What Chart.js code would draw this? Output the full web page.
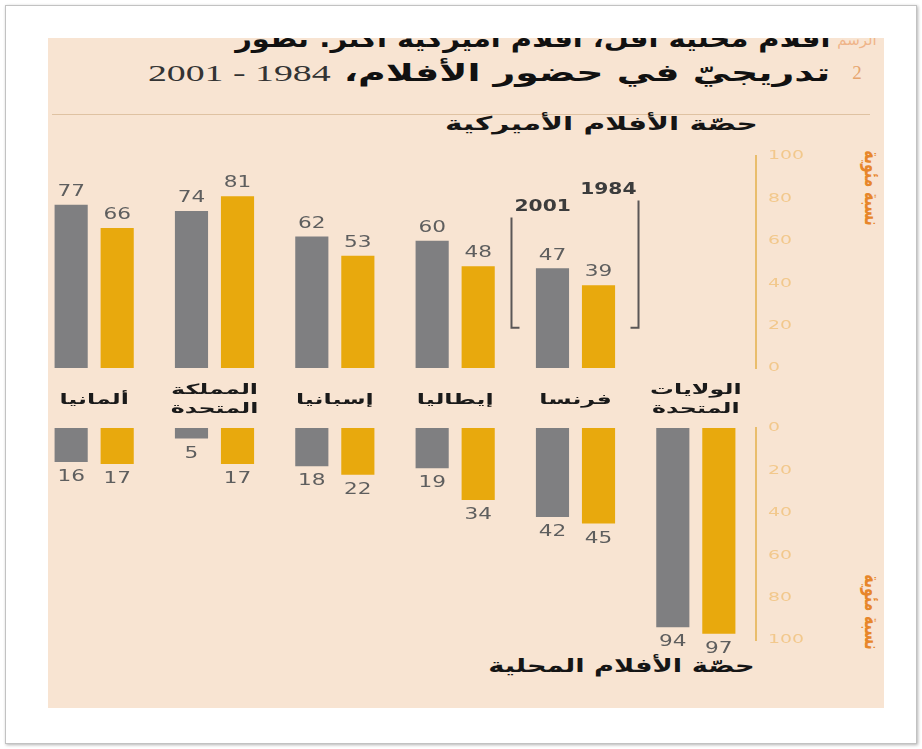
<!DOCTYPE html>
<html lang="ar">
<head>
<meta charset="utf-8">
<script src="https://cdn.jsdelivr.net/npm/chart.js@4.4.1/dist/chart.umd.min.js"></script>
<style>
  body { margin: 0; width: 922px; height: 749px; background: #fff; position: relative; overflow: hidden; font-family: "DejaVu Sans", sans-serif; }
  .frame { position: absolute; left: 5px; top: 5px; width: 910px; height: 737px; border: 1px solid #c2c2c2; box-shadow: 1px 1px 3px rgba(0,0,0,0.3); }
  .panel { position: absolute; left: 48px; top: 38px; width: 836px; height: 670px; background: #f8e4d2; overflow: hidden; }
  .line { position: absolute; right: 54px; direction: rtl; white-space: nowrap; font-weight: bold; font-size: 24px; line-height: 28px; color: #111; transform-origin: right center; }
  .line .yr { font-family: "Liberation Serif", serif; font-weight: normal; font-size: 24px; color: #333; }
  .fig { position: absolute; right: 4px; top: -12px; width: 46px; text-align: center; line-height: 28px; color: #efb489; font-size: 15px; }
  .fig .n { font-family: "Liberation Serif", serif; font-size: 19px; color: #e6a56e; margin-top: 5px; }
  .rule { position: absolute; left: 4px; top: 76px; width: 818px; height: 1px; background: #dfc2a2; }
  .sub { position: absolute; direction: rtl; white-space: nowrap; font-weight: bold; font-size: 19px; line-height: 20px; color: #151515; transform-origin: right center; }
  .vlabel { position: absolute; white-space: nowrap; color: #e7862a; font-weight: bold; font-size: 14px; transform: translate(-50%, -50%) rotate(90deg) scaleY(1.5); }
  canvas { position: absolute; left: 0; }
</style>
</head>
<body>
<div class="frame"></div>
<div class="panel">
  <div class="line" data-w="595" style="top:-13px;">أفلام محلية أقل، أفلام أميركية أكثر: تطوّر</div>
  <div class="line" data-w="682" style="top:21px;">تدريجيّ في حضور الأفلام، <span class="yr">1984 - 2001</span></div>
  <div class="fig"><div>الرسم</div><div class="n">2</div></div>
  <div class="rule"></div>
  <div class="sub" data-w="313" style="right:126px; top:75px;">حصّة الأفلام الأميركية</div>
  <div class="sub" data-w="267" style="right:129px; top:617px;">حصّة الأفلام المحلية</div>
</div>
<div class="vlabel" style="left:872px; top:188px;">نسبة مئوية</div>
<div class="vlabel" style="left:872px; top:612px;">نسبة مئوية</div>
<canvas id="usChart" width="830" height="278" style="top:140px"></canvas>
<canvas id="localChart" width="830" height="240" style="top:415px"></canvas>
<script>
// countries, in left-to-right drawing order
const categories = ['ألمانيا', ['المملكة', 'المتحدة'], 'إسبانيا', 'إيطاليا', 'فرنسا', ['الولايات', 'المتحدة']];
const years = ['2001', '1984'];

// share of American films (%), no bars for the US itself
const usShare2001 = [77, 74, 62, 60, 47, null];
const usShare1984 = [66, 81, 53, 48, 39, null];

// share of local films (%)
const localShare2001 = [16, 5, 18, 19, 42, 94];
const localShare1984 = [17, 17, 22, 34, 45, 97];

const GREY = '#7f7f81';
const AMBER = '#e8a90d';

// the printed graphic uses a wide face; stretch the text to suit
document.querySelectorAll('[data-w]').forEach(el => {
  const s = Number(el.dataset.w) / el.offsetWidth;
  el.style.transform = 'scaleX(' + s.toFixed(3) + ')';
});

Chart.defaults.font.family = "'DejaVu Sans', sans-serif";
Chart.defaults.animation = false;

function wideText(ctx, text, x, y, sx) {
  ctx.save();
  ctx.translate(x, y);
  ctx.scale(sx, 1);
  ctx.fillText(text, 0, 0);
  ctx.restore();
}

// bar values, percent tick labels and country names
const chartText = {
  id: 'chartText',
  afterDatasetsDraw(chart, args, opts) {
    const { ctx, scales: { x, y } } = chart;
    ctx.save();

    ctx.font = '16px "DejaVu Sans"';
    ctx.fillStyle = '#5e5e5e';
    ctx.textAlign = 'center';
    ctx.textBaseline = opts.below ? 'top' : 'bottom';
    chart.data.datasets.forEach((ds, i) => {
      chart.getDatasetMeta(i).data.forEach((bar, j) => {
        const v = ds.data[j];
        if (v == null) return;
        wideText(ctx, String(v), bar.x, opts.below ? bar.y + 7 : bar.y - 5, 1.35);
      });
    });

    ctx.font = '13px "DejaVu Sans"';
    ctx.fillStyle = '#f2c88c';
    ctx.textAlign = 'left';
    ctx.textBaseline = 'middle';
    y.ticks.forEach(t => {
      wideText(ctx, String(t.value), y.left + 12, y.getPixelForValue(t.value), 1.45);
    });

    if (opts.names) {
      ctx.font = 'bold 14px "DejaVu Sans"';
      ctx.fillStyle = '#1a1a1a';
      ctx.textAlign = 'center';
      const mid = chart.chartArea.bottom + 32;
      chart.data.labels.forEach((lab, i) => {
        const lines = [].concat(lab);
        const cx = x.getPixelForValue(i);
        lines.forEach((ln, k) => {
          wideText(ctx, ln, cx, mid + (k - (lines.length - 1) / 2) * 19, 1.7);
        });
      });
    }
    ctx.restore();
  }
};

// bracket key over the France pair showing which colour is which year
const yearBracket = {
  id: 'yearBracket',
  afterDatasetsDraw(chart) {
    const { ctx, scales: { y } } = chart;
    const a = chart.getDatasetMeta(0).data[4];
    const b = chart.getDatasetMeta(1).data[4];
    const leftX = a.x - 41, rightX = b.x + 40;
    const base = y.getPixelForValue(19);
    const topA = y.getPixelForValue(71), topB = y.getPixelForValue(79);
    ctx.save();
    ctx.strokeStyle = '#5b5757';
    ctx.lineWidth = 2;
    ctx.beginPath();
    ctx.moveTo(leftX, topA); ctx.lineTo(leftX, base); ctx.lineTo(leftX + 8, base);
    ctx.moveTo(rightX, topB); ctx.lineTo(rightX, base); ctx.lineTo(rightX - 8, base);
    ctx.stroke();
    ctx.fillStyle = '#3c3c3c';
    ctx.font = 'bold 15px "DejaVu Sans"';
    ctx.textBaseline = 'bottom';
    ctx.textAlign = 'left';
    wideText(ctx, years[0], leftX + 3, topA - 3, 1.35);
    ctx.textAlign = 'right';
    wideText(ctx, years[1], rightX - 2, topB - 3, 1.35);
    ctx.restore();
  }
};

function datasets(a, b) {
  return [
    { label: years[0], data: a, backgroundColor: GREY, categoryPercentage: 0.765, barPercentage: 0.72 },
    { label: years[1], data: b, backgroundColor: AMBER, categoryPercentage: 0.765, barPercentage: 0.72 }
  ];
}

function percentAxis(reverse) {
  return {
    position: 'right',
    reverse: reverse,
    min: 0,
    max: 100,
    ticks: { stepSize: 20, display: false },
    grid: { display: false },
    border: { display: true, color: '#e9bd6c', width: 2 },
    afterFit(s) { s.width = 74; }
  };
}

new Chart(document.getElementById('usChart'), {
  type: 'bar',
  data: { labels: categories, datasets: datasets(usShare2001, usShare1984) },
  options: {
    responsive: false,
    layout: { padding: { left: 34, top: 16, right: 0, bottom: 0 } },
    plugins: { legend: { display: false }, tooltip: { enabled: false }, chartText: { below: false, names: true } },
    scales: {
      x: {
        grid: { display: false },
        border: { display: false },
        ticks: { display: false },
        afterFit(s) { s.height = 50; }
      },
      y: percentAxis(false)
    }
  },
  plugins: [chartText, yearBracket]
});

new Chart(document.getElementById('localChart'), {
  type: 'bar',
  data: { labels: categories, datasets: datasets(localShare2001, localShare1984) },
  options: {
    responsive: false,
    layout: { padding: { left: 34, top: 13, right: 0, bottom: 15 } },
    plugins: { legend: { display: false }, tooltip: { enabled: false }, chartText: { below: true, names: false } },
    scales: {
      x: { display: false },
      y: percentAxis(true)
    }
  },
  plugins: [chartText]
});
</script>
</body>
</html>
